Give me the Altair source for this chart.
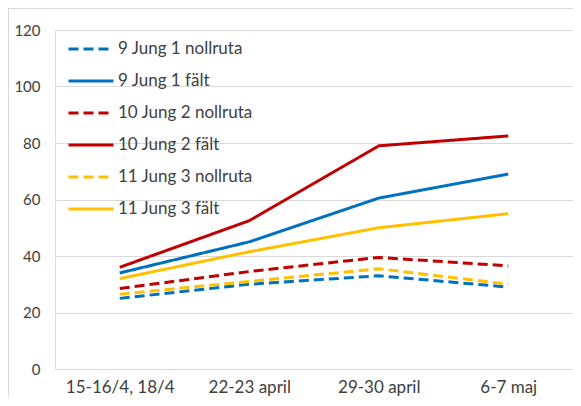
import altair as alt
import pandas as pd

categories = ["15-16/4, 18/4", "22-23 april", "29-30 april", "6-7 maj"]
series_names = [
    "9 Jung 1 nollruta",
    "9 Jung 1 fält",
    "10 Jung 2 nollruta",
    "10 Jung 2 fält",
    "11 Jung 3 nollruta",
    "11 Jung 3 fält",
]
jung1_noll = [25, 30, 33, 29]
jung1_falt = [34, 45, 60.5, 69]
jung2_noll = [28.5, 34.5, 39.5, 36.5]
jung2_falt = [36, 52.5, 79, 82.5]
jung3_noll = [26.5, 31, 35.5, 30]
jung3_falt = [32, 41.5, 50, 55]
colors = ["#0070C0", "#0070C0", "#C00000", "#C00000", "#FFC000", "#FFC000"]
dashes = [[10, 5], [1, 0], [10, 5], [1, 0], [10, 5], [1, 0]]

all_values = [jung1_noll, jung1_falt, jung2_noll, jung2_falt, jung3_noll, jung3_falt]
rows = []
for name, vals in zip(series_names, all_values):
    for i, (c, v) in enumerate(zip(categories, vals)):
        rows.append({"serie": name, "period": c, "idx": i, "value": v})
df = pd.DataFrame(rows)

FONT = "Lato"
TXT = "#404040"

lines = alt.Chart(df).mark_line(strokeWidth=3).encode(
    x=alt.X("period:N", sort=categories, title=None,
            scale=alt.Scale(padding=0.5),
            axis=alt.Axis(labelAngle=0, ticks=False, domain=False, grid=False,
                          labelPadding=10, labelFontSize=17, labelColor=TXT,
                          labelFont=FONT)),
    y=alt.Y("value:Q", title=None,
            scale=alt.Scale(domain=[0, 120], nice=False),
            axis=alt.Axis(values=[0, 20, 40, 60, 80, 100, 120], ticks=False, domain=False,
                          labelPadding=15, labelFontSize=15, labelColor=TXT,
                          labelFont=FONT, gridColor="#d9d9d9", gridWidth=1.2)),
    color=alt.Color("serie:N", sort=series_names,
                    scale=alt.Scale(domain=series_names, range=colors),
                    legend=alt.Legend(title=None, orient="none", legendX=12, legendY=-5,
                                      symbolType="stroke", symbolSize=2025,
                                      symbolStrokeWidth=3, labelFontSize=17,
                                      labelFont=FONT, labelColor=TXT,
                                      rowPadding=-14, labelOffset=3)),
    strokeDash=alt.StrokeDash("serie:N", sort=series_names,
                              scale=alt.Scale(domain=series_names, range=dashes),
                              legend=None),
    order=alt.Order("idx:Q"),
)

frame_src = pd.DataFrame({"a": [0]})
top_border = alt.Chart(frame_src).mark_rule(color="#d9d9d9", strokeWidth=1).encode(
    x=alt.value(-47), x2=alt.value(518), y=alt.value(-21.5)
)
left_border = alt.Chart(frame_src).mark_rule(color="#d9d9d9", strokeWidth=1).encode(
    x=alt.value(-46.5), y=alt.value(-21.5), y2=alt.value(367)
)

chart = alt.layer(top_border, left_border, lines).properties(
    width=518, height=339,
    autosize=alt.AutoSizeParams(type="none"),
    padding={"left": 47, "top": 22, "right": 0, "bottom": 28},
).configure_view(stroke=None).configure(background="white")

chart.save("out.html", embed_options={"renderer": "svg", "actions": False})
